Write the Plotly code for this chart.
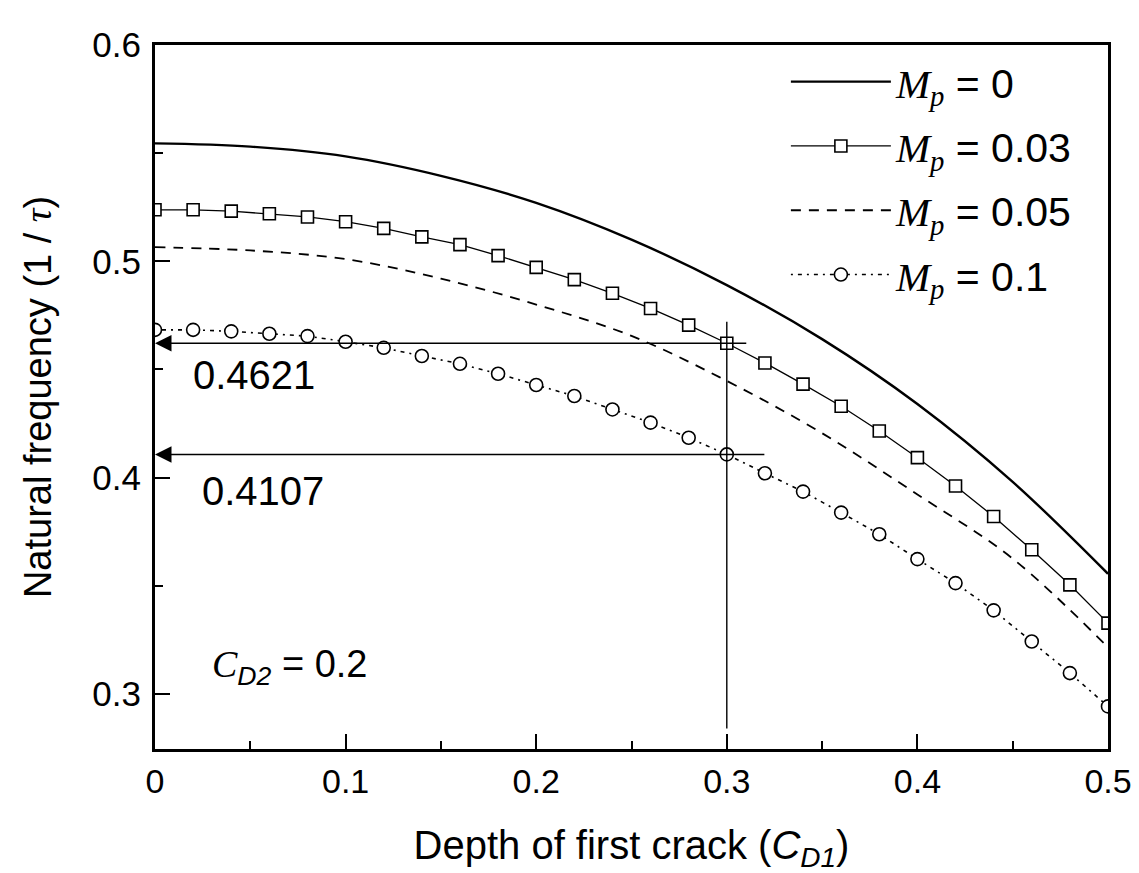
import plotly.graph_objects as go

# Crack depth grid for the marked series (step 0.02) and for the smooth curves (step 0.05)
depth_marked = [0.00, 0.02, 0.04, 0.06, 0.08, 0.10, 0.12, 0.14, 0.16, 0.18, 0.20, 0.22, 0.24,
                0.26, 0.28, 0.30, 0.32, 0.34, 0.36, 0.38, 0.40, 0.42, 0.44, 0.46, 0.48, 0.50]
depth_curve = [0.00, 0.05, 0.10, 0.15, 0.20, 0.25, 0.30, 0.35, 0.40, 0.45, 0.50]

# Natural frequency (1/tau) for each mass ratio Mp
freq_mp_0 = [0.5545, 0.5530, 0.5485, 0.5395, 0.5270, 0.5100, 0.4890, 0.4640, 0.4340, 0.3980, 0.3555]
freq_mp_003 = [0.5238, 0.5238, 0.5232, 0.5220, 0.5205, 0.5183, 0.5152, 0.5113, 0.5077, 0.5026, 0.4972,
               0.4915, 0.4852, 0.4782, 0.4705, 0.4621, 0.4530, 0.4432, 0.4330, 0.4215, 0.4092, 0.3961,
               0.3820, 0.3666, 0.3504, 0.3327]
freq_mp_005 = [0.5065, 0.5050, 0.5010, 0.4920, 0.4800, 0.4655, 0.4447, 0.4205, 0.3922, 0.3625, 0.3215]
freq_mp_01 = [0.4683, 0.4683, 0.4676, 0.4665, 0.4654, 0.4628, 0.4600, 0.4562, 0.4526, 0.4480, 0.4428,
              0.4377, 0.4315, 0.4254, 0.4184, 0.4107, 0.4020, 0.3935, 0.3838, 0.3738, 0.3623, 0.3512,
              0.3386, 0.3242, 0.3096, 0.2942]

legend_names = ["0", "0.03", "0.05", "0.1"]
x_ticks = [0.0, 0.1, 0.2, 0.3, 0.4, 0.5]
x_tick_text = ["0", "0.1", "0.2", "0.3", "0.4", "0.5"]
y_ticks = [0.3, 0.4, 0.5, 0.6]
y_tick_text = ["0.3", "0.4", "0.5", "0.6"]

# Read-off construction at the first crack depth 0.3
probe_depth = 0.3
probe_idx = depth_marked.index(probe_depth)
probe_freqs = [freq_mp_003[probe_idx], freq_mp_01[probe_idx]]
probe_label_pos = [(0.0522, 0.4474), (0.0569, 0.3936)]

SANS = "Liberation Sans, Arial, sans-serif"
NARROW = "Liberation Sans Narrow, Arial Narrow, Liberation Sans, sans-serif"
SERIF = "Liberation Serif, Times New Roman, serif"
INK = "#000000"


def mp_label(value):
    return (f"<span style=\"font-family:{SERIF}\"><i>M</i></span>"
            f"<sub><span style=\"font-family:{SERIF}\"><i>p</i></span></sub> = {value}")


fig = go.Figure()

fig.add_trace(go.Scatter(
    x=depth_curve, y=freq_mp_0, mode="lines", name=mp_label(legend_names[0]), legendgroup="a",
    line=dict(color=INK, width=2.4, shape="spline"),
))
fig.add_trace(go.Scatter(
    x=depth_marked, y=freq_mp_003, mode="lines+markers", name=mp_label(legend_names[1]), legendgroup="b",
    line=dict(color=INK, width=1.3),
    marker=dict(symbol="square", size=12, color="white", line=dict(color=INK, width=1.6)),
))
fig.add_trace(go.Scatter(
    x=depth_curve, y=freq_mp_005, mode="lines", name=mp_label(legend_names[2]), legendgroup="c",
    line=dict(color=INK, width=1.8, dash="10px,8px", shape="spline"),
))
fig.add_trace(go.Scatter(
    x=depth_marked, y=freq_mp_01, mode="lines+markers", name=mp_label(legend_names[3]), legendgroup="d",
    line=dict(color=INK, width=1.6, dash="2px,5px,4px,5px"),
    marker=dict(symbol="circle", size=13, color="white", line=dict(color=INK, width=1.6)),
))

# Vertical guide at the chosen crack depth
fig.add_shape(type="line", x0=probe_depth, x1=probe_depth, y0=0.284, y1=0.472,
              xref="x", yref="y", line=dict(color=INK, width=1.4), layer="above")

# Horizontal read-off arrows to the frequency axis, with their values
arrow_ends = [0.311, 0.3205]
for f, x_end, (lx, ly) in zip(probe_freqs, arrow_ends, probe_label_pos):
    fig.add_annotation(x=0.0, y=f, ax=x_end, ay=f, xref="x", yref="y", axref="x", ayref="y",
                       text="", showarrow=True, arrowhead=2, arrowsize=2.2, arrowwidth=1.5,
                       arrowcolor=INK, standoff=0)
    fig.add_annotation(x=lx, y=ly, xref="x", yref="y", text=f"{f:.4f}", showarrow=False,
                       font=dict(family=NARROW, size=40, color=INK))

fig.add_annotation(
    x=0.029, y=0.3125, xref="x", yref="y", xanchor="left", showarrow=False,
    text=(f"<span style=\"font-family:{SERIF}\"><i>C</i></span>"
          "<sub><i>D2</i></sub> = 0.2"),
    font=dict(family=SANS, size=38, color=INK),
)

axis_common = dict(
    showgrid=False, zeroline=False, showline=True, linecolor=INK, linewidth=3,
    mirror=True, ticks="inside", tickcolor=INK, tickwidth=2, automargin=False,
)

fig.update_layout(
    width=1139, height=873,
    margin=dict(l=155, r=31, t=45, b=124),
    paper_bgcolor="white", plot_bgcolor="white",
    font=dict(family=SANS, color=INK),
    showlegend=True,
    legend=dict(
        x=0.662, y=0.995, xanchor="left", yanchor="top",
        bgcolor="rgba(0,0,0,0)", borderwidth=0,
        font=dict(family=SANS, size=41, color=INK),
        itemwidth=100, tracegroupgap=8,
    ),
    xaxis=dict(
        range=[0, 0.5], tickvals=x_ticks, ticktext=x_tick_text, ticklen=15,
        minor=dict(dtick=0.05, ticks="inside", ticklen=8, tickwidth=1.5, tickcolor=INK),
        tickfont=dict(family=NARROW, size=34, color=INK),
        title=dict(text="Depth of first crack (<i>C</i><sub><i>D1</i></sub>)",
                   font=dict(family=NARROW, size=40, color=INK), standoff=36),
        **axis_common,
    ),
    yaxis=dict(
        range=[0.2745, 0.6], tickvals=y_ticks, ticktext=y_tick_text, ticklen=15,
        minor=dict(dtick=0.05, ticks="inside", ticklen=8, tickwidth=1.5, tickcolor=INK),
        tickfont=dict(family=SANS, size=35, color=INK),
        ticklabelstandoff=4,
        title=dict(text=f"Natural frequency (1 / <span style=\"font-family:{SERIF}\"><i>τ</i></span>)",
                   font=dict(family=SANS, size=38, color=INK), standoff=30),
        **axis_common,
    ),
)

fig.write_html("out.html")
